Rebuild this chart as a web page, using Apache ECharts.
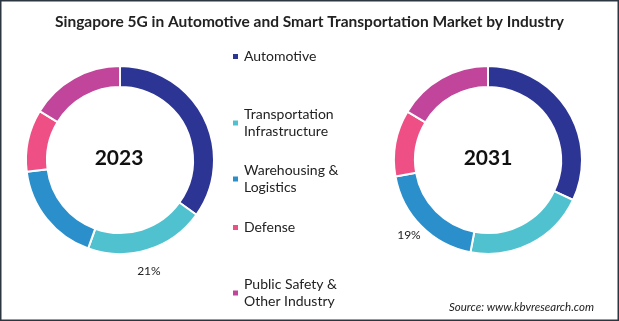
<!DOCTYPE html>
<html>
<head>
<meta charset="utf-8">
<script src="https://cdn.jsdelivr.net/npm/echarts@6/dist/echarts.min.js"></script>
<style>
html,body{margin:0;padding:0;background:#fff;}
#c{width:619px;height:321px;}
</style>
</head>
<body>
<div id="c"></div>
<script>
var title = 'Singapore 5G in Automotive and Smart Transportation Market by Industry';
var categories = ['Automotive', 'Transportation Infrastructure', 'Warehousing & Logistics', 'Defense', 'Public Safety & Other Industry'];
var legendLines = [['Automotive'], ['Transportation', 'Infrastructure'], ['Warehousing &', 'Logistics'], ['Defense'], ['Public Safety &', 'Other Industry']];
var years = ['2023', '2031'];
var values2023 = [34.9, 20.6, 17.5, 10.7, 16.3];
var values2031 = [32.0, 21.0, 19.2, 11.4, 16.4];
var labelled2023 = 'Transportation Infrastructure';
var labelled2031 = 'Warehousing & Logistics';
var colors = ['#2c3594', '#50c2cf', '#2a8fcb', '#ee5085', '#c1459b'];
var source = 'Source: www.kbvresearch.com';

var chart = echarts.init(document.getElementById('c'), null, {renderer: 'canvas'});
var font = 'Lato';

function pieSeries(year, values, center, labelled, lineLen, dx, dy) {
  return {
    type: 'pie',
    name: year,
    radius: [73, 94],
    center: center,
    startAngle: 90,
    clockwise: true,
    avoidLabelOverlap: false,
    silent: true,
    itemStyle: {borderColor: '#fff', borderWidth: 2},
    label: {show: false},
    labelLine: {show: false},
    labelLayout: {dx: dx, dy: dy, hideOverlap: false, moveOverlap: null},
    data: categories.map(function (c, i) {
      var d = {name: c, value: values[i], itemStyle: {color: colors[i]}};
      if (c === labelled) {
        d.label = {
          show: true, position: 'outside', distance: 0,
          formatter: function (p) { return Math.round(p.percent) + '%'; },
          color: '#222', fontSize: 12, fontFamily: font
        };
        d.labelLine = {show: true, length: lineLen, length2: 0, lineStyle: {opacity: 0}};
      }
      return d;
    })
  };
}

var legendCenters = [56, 114, 170, 227, 284];
var legends = categories.map(function (c, i) {
  var two = legendLines[i].length > 1;
  return {
    data: [c],
    left: 231,
    top: two ? legendCenters[i] - 16.5 : legendCenters[i] - 8,
    padding: 0,
    itemWidth: 7, itemHeight: 7,
    icon: 'rect',
    itemGap: 0,
    selectedMode: false,
    formatter: function () { return legendLines[i].join('\n'); },
    textStyle: {
      fontFamily: font, fontSize: 14, color: '#222', lineHeight: 17,
      padding: two ? [17, 0, 0, 0] : 0
    }
  };
});

chart.setOption({
  animation: false,
  backgroundColor: '#fff',
  title: [{
    text: title, left: 'center', top: 9,
    textStyle: {fontFamily: font, fontWeight: 'bold', fontSize: 15.5, color: '#222'}
  }, {
    text: years[0], left: 114, top: 153, textAlign: 'center', textVerticalAlign: 'middle',
    textStyle: {fontFamily: font, fontWeight: 'bold', fontSize: 21, color: '#111'}
  }, {
    text: years[1], left: 483, top: 153, textAlign: 'center', textVerticalAlign: 'middle',
    textStyle: {fontFamily: font, fontWeight: 'bold', fontSize: 21, color: '#111'}
  }, {
    text: source, right: 20, top: 296,
    textStyle: {fontFamily: font, fontStyle: 'italic', fontWeight: 'normal', fontSize: 11.5, color: '#222'}
  }],
  legend: legends,
  graphic: [{
    type: 'rect', silent: true,
    shape: {x: 0.75, y: 0.75, width: 617.5, height: 319.5},
    style: {fill: 'none', stroke: '#2c3640', lineWidth: 1.5}
  }],
  series: [
    pieSeries(years[0], values2023, [120, 160], labelled2023, 21, -22, 1),
    pieSeries(years[1], values2031, [488, 160], labelled2031, 16, 16, -2)
  ]
});
</script>
</body>
</html>
